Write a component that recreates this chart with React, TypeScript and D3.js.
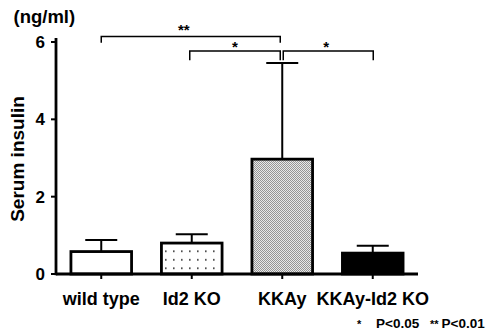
import React from "react";
import * as d3 from "d3";

const categories = ["wild type", "Id2 KO", "KKAy", "KKAy-Id2 KO"];
const means = [0.58, 0.8, 2.97, 0.54];
const errors = [0.3, 0.23, 2.49, 0.19];
const fills = ["white", "url(#dots)", "url(#stipple)", "black"];
const yTicks = [0, 2, 4, 6];
const brackets = [
  { from: 0, to: 2, top: 6.14, drop: 5.98, label: "**" },
  { from: 1, to: 2, top: 5.77, drop: 5.53, label: "*" },
  { from: 2, to: 3, top: 5.77, drop: 5.53, label: "*" },
];
const bracketStyle = [
  { dx1: 0, dx2: -2, dy: -1.5, ldx: -7 },
  { dx1: -2, dx2: -2, dy: 1.2, ldx: 0 },
  { dx1: 1, dx2: 0.5, dy: 1.2, ldx: -2 },
];

const W = 491;
const H = 333;
const font = "Liberation Sans, Arial, Helvetica, sans-serif";

export default function App() {
  const x = d3
    .scaleBand<string>()
    .domain(categories)
    .range([56, 418])
    .paddingInner(0.33)
    .paddingOuter(0.165);
  const y = d3.scaleLinear().domain([0, 6]).range([274, 42]);
  const cx = (c: string) => (x(c) as number) + x.bandwidth() / 2;
  const capW = 32;

  return (
    <svg
      width={W}
      height={H}
      style={{ position: "absolute", left: 0, top: 0, background: "white" }}
      fontFamily={font}
    >
      <defs>
        <pattern id="dots" width="8" height="8.5" patternUnits="userSpaceOnUse" x="2" y="1">
          <rect width="8" height="8.5" fill="white" />
          <rect x="3" y="3" width="1.6" height="1.6" fill="#333" />
        </pattern>
        <pattern id="stipple" width="2" height="2" patternUnits="userSpaceOnUse">
          <rect width="2" height="2" fill="#e8e8e8" />
          <rect x="0" y="0" width="1" height="1" fill="#959595" />
          <rect x="1" y="1" width="1" height="1" fill="#959595" />
        </pattern>
      </defs>

      {/* error bars (behind bars) */}
      {categories.map((c, i) => (
        <g key={"e" + c} stroke="black" strokeWidth={2}>
          <line x1={cx(c)} x2={cx(c)} y1={y(means[i])} y2={y(means[i] + errors[i])} />
          <line
            x1={cx(c) - capW / 2}
            x2={cx(c) + capW / 2}
            y1={y(means[i] + errors[i])}
            y2={y(means[i] + errors[i])}
          />
        </g>
      ))}

      {/* bars */}
      {categories.map((c, i) => (
        <rect
          key={"b" + c}
          x={x(c)}
          y={y(means[i])}
          width={x.bandwidth()}
          height={y(0) - y(means[i])}
          fill={fills[i]}
          stroke="black"
          strokeWidth={2.8}
        />
      ))}

      {/* axes */}
      <line x1={56} x2={56} y1={y(6) - 4} y2={y(0) + 1.25} stroke="black" strokeWidth={2.8} />
      <line x1={56} x2={418} y1={y(0)} y2={y(0)} stroke="black" strokeWidth={2.8} />
      {yTicks.map((t) => (
        <g key={"t" + t}>
          <line x1={51} x2={56} y1={y(t)} y2={y(t)} stroke="black" strokeWidth={2} />
          <text
            x={45}
            y={y(t)}
            dy="0.36em"
            textAnchor="end"
            fontSize={17}
            fontWeight="bold"
          >
            {t}
          </text>
        </g>
      ))}
      {categories.map((c) => (
        <g key={"x" + c}>
          <line x1={cx(c)} x2={cx(c)} y1={y(0)} y2={y(0) + 5} stroke="black" strokeWidth={2} />
          <text x={cx(c)} y={305} textAnchor="middle" fontSize={18} fontWeight="bold">
            {c}
          </text>
        </g>
      ))}

      {/* axis labels */}
      <text x={13.5} y={23} fontSize={18.5} fontWeight="bold">
        (ng/ml)
      </text>
      <text
        transform={`translate(24,159) rotate(-90)`}
        textAnchor="middle"
        fontSize={19}
        fontWeight="bold"
      >
        Serum insulin
      </text>

      {/* significance brackets */}
      {brackets.map((b, i) => {
        const s = bracketStyle[i];
        const x1 = cx(categories[b.from]) + s.dx1;
        const x2 = cx(categories[b.to]) + s.dx2;
        return (
          <g key={"br" + i}>
            <path
              d={`M${x1},${y(b.drop)}V${y(b.top)}H${x2}V${y(b.drop)}`}
              fill="none"
              stroke="black"
              strokeWidth={1.5}
            />
            <text
              x={(x1 + x2) / 2 + s.ldx}
              y={y(b.top) + s.dy}
              textAnchor="middle"
              fontSize={15}
              fontWeight="bold"
            >
              {b.label}
            </text>
          </g>
        );
      })}

      {/* legend */}
      <text x={357} y={328} fontSize={11} fontWeight="bold">
        *
      </text>
      <text x={376} y={328} fontSize={13.5} fontWeight="bold">
        P&lt;0.05
      </text>
      <text x={430} y={328} fontSize={11} fontWeight="bold">
        **
      </text>
      <text x={441.5} y={328} fontSize={13.5} fontWeight="bold">
        P&lt;0.01
      </text>
    </svg>
  );
}
